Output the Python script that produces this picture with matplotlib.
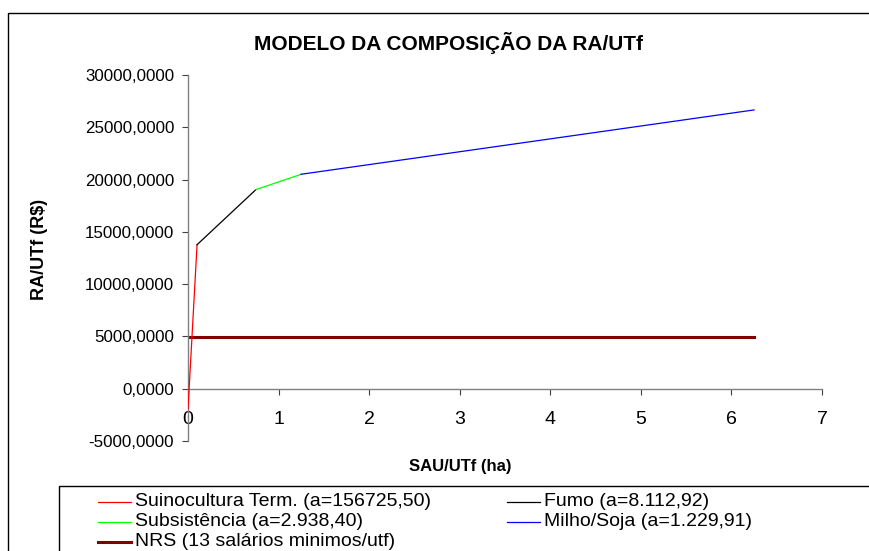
import matplotlib
matplotlib.use("Agg")
import matplotlib.pyplot as plt
from matplotlib.lines import Line2D
from matplotlib.patches import Rectangle

plt.rcParams["font.family"] = ["Liberation Sans", "DejaVu Sans"]

# dados
x_suino = [0.0, 0.1]
y_suino = [-1950, 13770]
x_fumo = [0.1, 0.75]
y_fumo = [13770, 19040]
x_subs = [0.75, 1.25]
y_subs = [19040, 20510]
x_milho = [1.25, 6.25]
y_milho = [20510, 26660]
x_nrs = [0.0, 0.1, 0.75, 1.25, 6.25]
y_nrs = [4940, 4940, 4940, 4940, 4940]

labels = ["Suinocultura Term. (a=156725,50)", "Fumo (a=8.112,92)",
          "Subsistência (a=2.938,40)", "Milho/Soja (a=1.229,91)",
          "NRS (13 salários minimos/utf)"]
colors = ["#FF0000", "#000000", "#00FF00", "#0000FF", "#800000"]
x_ticks = [0, 1, 2, 3, 4, 5, 6, 7]
y_ticks = [-5000, 0, 5000, 10000, 15000, 20000, 25000, 30000]

W, H = 869, 551
fig = plt.figure(figsize=(W / 100, H / 100), dpi=100)

def fx(px):
    return px / W

def fy(py):
    return 1 - py / H

# moldura externa
fig.patches.append(Rectangle((fx(8), fy(600)), fx(900), fy(13) - fy(600),
                             transform=fig.transFigure, fill=False,
                             edgecolor="black", linewidth=1.0))

ax = fig.add_axes([fx(188), fy(441), fx(822 - 188), fy(75) - fy(441)])
ax.plot(x_nrs, y_nrs, color=colors[4], linewidth=2.2, zorder=2)
ax.plot(x_suino, y_suino, color=colors[0], linewidth=0.9, zorder=3)
ax.plot(x_fumo, y_fumo, color=colors[1], linewidth=0.9, zorder=3)
ax.plot(x_subs, y_subs, color=colors[2], linewidth=0.9, zorder=3)
ax.plot(x_milho, y_milho, color=colors[3], linewidth=0.9, zorder=3)

ax.set_xlim(0, 7)
ax.set_ylim(-5000, 30000)
ax.spines["top"].set_visible(False)
ax.spines["right"].set_visible(False)
ax.spines["bottom"].set_position(("data", 0))
for s in ("left", "bottom"):
    ax.spines[s].set_color("#808080")
    ax.spines[s].set_linewidth(1.0)
ax.set_xticks(x_ticks)
ax.set_xticklabels([str(t) for t in x_ticks], fontsize=14)
ax.set_yticks(y_ticks)
ax.set_yticklabels([f"{t:.4f}".replace(".", ",") for t in y_ticks], fontsize=12.2)
ax.tick_params(axis="x", direction="out", length=4, color="#404040", pad=12)
ax.tick_params(axis="y", direction="out", length=4, color="#404040", pad=6)
ax.patch.set_alpha(0)

fig.text(fx(448), fy(43), "MODELO DA COMPOSIÇÃO DA RA/UTf", ha="center",
         va="center", fontsize=15, fontweight="bold")
fig.text(fx(40), fy(249), "RA/UTf (R$)", ha="center", va="center",
         rotation=90, fontsize=13, fontweight="bold")
fig.text(fx(460), fy(466), "SAU/UTf (ha)", ha="center", va="center",
         fontsize=12, fontweight="bold")

# legenda
fig.patches.append(Rectangle((fx(59), fy(600)), fx(900), fy(486) - fy(600),
                             transform=fig.transFigure, fill=False,
                             edgecolor="black", linewidth=1.0))
leg_pos = [(98, 502), (507, 502), (98, 522), (507, 522), (98, 542)]
leg_lw = [0.9, 0.9, 0.9, 0.9, 2.2]
for (px, py), lab, c, lw in zip(leg_pos, labels, colors, leg_lw):
    fig.add_artist(Line2D([fx(px), fx(px + 33)], [fy(py), fy(py)],
                          transform=fig.transFigure, color=c, linewidth=lw))
    fig.text(fx(px + 37), fy(py), lab, ha="left", va="center", fontsize=14)

fig.savefig("out.png", dpi=100)
